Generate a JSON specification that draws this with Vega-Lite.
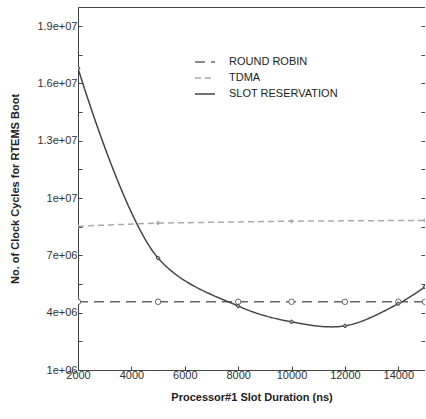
{
  "$schema": "https://vega.github.io/schema/vega-lite/v6.json",
  "autosize": "none",
  "padding": {"left": 78, "top": 7, "right": 0, "bottom": 49},
  "width": 347,
  "height": 363,
  "background": "white",
  "config": {
    "view": {"stroke": "#444444", "strokeWidth": 1},
    "font": "Liberation Sans",
    "axis": {"labelFont": "Liberation Sans", "titleFont": "Liberation Sans", "labelColor": "#333333", "titleColor": "#222222", "domainColor": "#444444", "tickColor": "#444444", "grid": false},
    "legend": {"labelFont": "Liberation Sans"}
  },
  "data": {
    "values": [
      {"x": 2000, "y": 4570000, "s": "ROUND ROBIN"},
      {"x": 5000, "y": 4570000, "s": "ROUND ROBIN"},
      {"x": 8000, "y": 4570000, "s": "ROUND ROBIN"},
      {"x": 10000, "y": 4570000, "s": "ROUND ROBIN"},
      {"x": 12000, "y": 4570000, "s": "ROUND ROBIN"},
      {"x": 14000, "y": 4570000, "s": "ROUND ROBIN"},
      {"x": 15000, "y": 4570000, "s": "ROUND ROBIN"},
      {"x": 2000, "y": 8530000, "s": "TDMA"},
      {"x": 5000, "y": 8690000, "s": "TDMA"},
      {"x": 10000, "y": 8790000, "s": "TDMA"},
      {"x": 15000, "y": 8830000, "s": "TDMA"},
      {"x": 2000, "y": 16800000, "s": "SLOT RESERVATION"},
      {"x": 5000, "y": 6860000, "s": "SLOT RESERVATION"},
      {"x": 8000, "y": 4350000, "s": "SLOT RESERVATION"},
      {"x": 10000, "y": 3520000, "s": "SLOT RESERVATION"},
      {"x": 12000, "y": 3310000, "s": "SLOT RESERVATION"},
      {"x": 14000, "y": 4470000, "s": "SLOT RESERVATION"},
      {"x": 15000, "y": 5350000, "s": "SLOT RESERVATION"}
    ]
  },
  "resolve": {"axis": {"y": "independent"}},
  "layer": [
    {
      "transform": [{"filter": "datum.s != 'SLOT RESERVATION'"}],
      "mark": {"type": "line", "strokeWidth": 1.5, "clip": true},
      "encoding": {
        "x": {"field": "x", "type": "quantitative", "scale": {"domain": [2000, 15000], "nice": false, "zero": false},
          "axis": {"title": "Processor#1 Slot Duration (ns)", "titleFontSize": 11, "titleFontWeight": "bold", "titlePadding": 11, "labelFontSize": 11, "values": [2000,3000,4000,5000,6000,7000,8000,9000,10000,11000,12000,13000,14000,15000], "labelExpr": "datum.value % 2000 == 0 && datum.value < 15000 ? datum.label : ''", "format": "d", "tickSize": -4, "labelPadding": 3, "labelOverlap": false, "labelFlush": false}},
        "y": {"field": "y", "type": "quantitative", "scale": {"domain": [1000000, 20000000], "nice": false, "zero": false},
          "axis": {"title": "No. of Clock Cycles for RTEMS Boot", "titleFontSize": 11, "titleFontWeight": "bold", "titlePadding": 16, "labelFontSize": 11, "values": [1000000,2500000,4000000,5500000,7000000,8500000,10000000,11500000,13000000,14500000,16000000,17500000,19000000], "labelExpr": "(datum.value - 1000000) % 3000000 == 0 ? replace(format(datum.value, '.2~e'), 'e+', 'e+0') : ''", "tickSize": -4, "labelPadding": 5, "labelOverlap": false, "labelFlush": false}},
        "color": {"field": "s", "type": "nominal", "scale": {"domain": ["ROUND ROBIN", "TDMA", "SLOT RESERVATION"], "range": ["#666666", "#aaaaaa", "#444444"]},
          "legend": {"title": null, "orient": "none", "legendX": 116, "legendY": 44, "symbolType": "stroke", "symbolSize": 400, "symbolStrokeWidth": 1.5, "labelFontSize": 11, "labelColor": "#222222", "labelOffset": 13, "rowPadding": 0, "padding": 0}},
        "strokeDash": {"field": "s", "type": "nominal", "scale": {"domain": ["ROUND ROBIN", "TDMA", "SLOT RESERVATION"], "range": [[10, 6], [6, 4], [1, 0]]},
          "legend": {"title": null, "orient": "none", "legendX": 116, "legendY": 44, "symbolType": "stroke", "symbolSize": 400, "symbolStrokeWidth": 1.5, "labelFontSize": 11, "labelColor": "#222222", "labelOffset": 13, "rowPadding": 0, "padding": 0}}
      }
    },
    {
      "transform": [{"filter": "datum.s == 'SLOT RESERVATION'"}],
      "mark": {"type": "line", "strokeWidth": 1.5, "interpolate": "catmull-rom", "clip": true},
      "encoding": {
        "x": {"field": "x", "type": "quantitative"},
        "y": {"field": "y", "type": "quantitative", "axis": null},
        "color": {"field": "s", "type": "nominal"},
        "strokeDash": {"field": "s", "type": "nominal"}
      }
    },
    {
      "transform": [{"filter": "datum.s == 'ROUND ROBIN'"}],
      "mark": {"type": "point", "shape": "circle", "filled": true, "fill": "white", "stroke": "#666666", "strokeWidth": 1, "size": 30, "opacity": 1, "clip": true},
      "encoding": {
        "x": {"field": "x", "type": "quantitative"},
        "y": {"field": "y", "type": "quantitative", "axis": null}
      }
    },
    {
      "transform": [{"filter": "datum.s == 'TDMA'"}],
      "mark": {"type": "point", "shape": "cross", "filled": true, "fill": "#aaaaaa", "strokeWidth": 0, "size": 16, "opacity": 1, "clip": true},
      "encoding": {
        "x": {"field": "x", "type": "quantitative"},
        "y": {"field": "y", "type": "quantitative", "axis": null}
      }
    },
    {
      "transform": [{"filter": "datum.s == 'SLOT RESERVATION'"}],
      "mark": {"type": "point", "shape": "diamond", "filled": true, "fill": "#999999", "stroke": "#444444", "strokeWidth": 1, "size": 18, "opacity": 1, "clip": true},
      "encoding": {
        "x": {"field": "x", "type": "quantitative"},
        "y": {"field": "y", "type": "quantitative",
          "axis": {"orient": "right", "title": null, "labels": false, "domain": false, "values": [1000000,2500000,4000000,5500000,7000000,8500000,10000000,11500000,13000000,14500000,16000000,17500000,19000000], "tickSize": -4}}
      }
    }
  ]
}
